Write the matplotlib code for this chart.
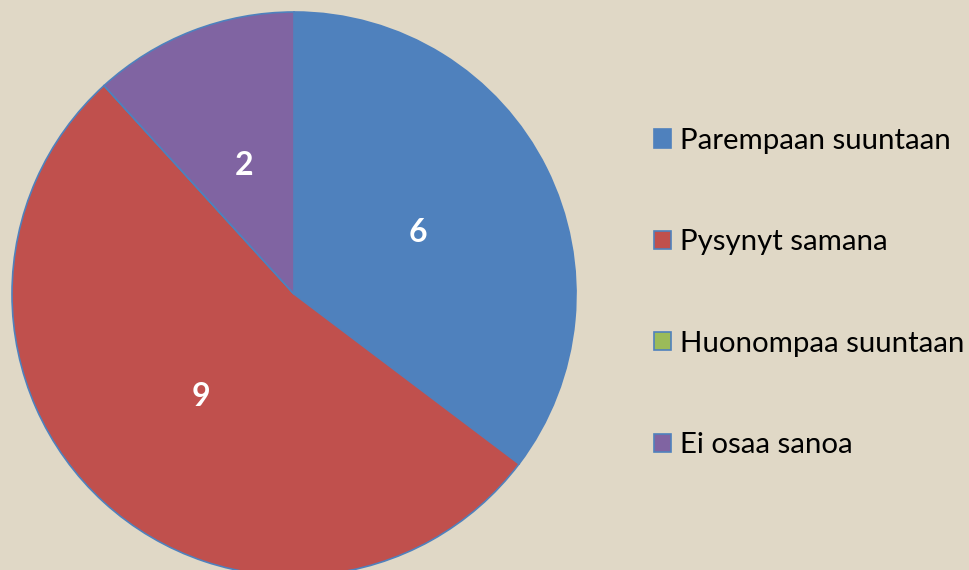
import matplotlib.pyplot as plt

categories = ["Parempaan suuntaan", "Pysynyt samana", "Huonompaa suuntaan", "Ei osaa sanoa"]
values = [6, 9, 0, 2]
colors = ["#4F81BD", "#C0504D", "#9BBB59", "#8064A2"]

plt.rcParams['font.family'] = ['Lato', 'DejaVu Sans']

fig = plt.figure(figsize=(9.7, 5.7), dpi=100)
fig.patch.set_facecolor("#E0D8C6")

ax = fig.add_axes([12 / 970, -6 / 570, 564 / 970, 564 / 570])
ax.set_facecolor("none")

total = sum(values)


def fmt(p):
    v = int(round(p * total / 100.0))
    return str(v) if v > 0 else ""


wedges, texts, autotexts = ax.pie(
    values, colors=colors, startangle=90, counterclock=False,
    autopct=fmt, pctdistance=0.49, radius=1.0,
    wedgeprops=dict(edgecolor="#4F81BD", linewidth=1.2),
    textprops=dict(color="white", fontsize=23, fontweight="bold"))
ax.set_xlim(-1, 1)
ax.set_ylim(-1, 1)
ax.set_aspect("equal")

fig.legend(wedges, categories, loc="center left",
           bbox_to_anchor=(654 / 970, 1 - 293 / 570),
           frameon=False, fontsize=21.2, handlelength=0.58, handleheight=0.58,
           handletextpad=0.3, labelspacing=2.56, borderpad=0, borderaxespad=0)

fig.savefig("out.png", dpi=100, facecolor=fig.get_facecolor())
